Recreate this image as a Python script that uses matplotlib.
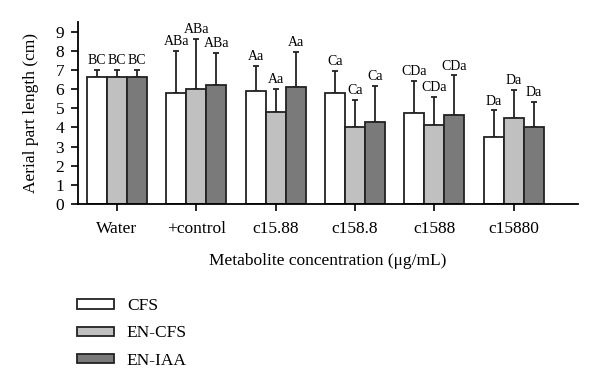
import numpy as np
import matplotlib
matplotlib.use('Agg')
import matplotlib.pyplot as plt

plt.rcParams['font.family'] = ['Liberation Serif', 'DejaVu Serif']

categories = ['Water', '+control', 'c15.88', 'c158.8', 'c1588', 'c15880']
series = ['CFS', 'EN-CFS', 'EN-IAA']

cfs = [6.65, 5.83, 5.89, 5.78, 4.77, 3.52]
en_cfs = [6.65, 5.99, 4.79, 4.02, 4.14, 4.51]
en_iaa = [6.65, 6.20, 6.13, 4.27, 4.63, 4.02]

cfs_err = [0.35, 2.18, 1.32, 1.19, 1.66, 1.38]
en_cfs_err = [0.35, 2.63, 1.23, 1.43, 1.45, 1.46]
en_iaa_err = [0.35, 1.70, 1.83, 1.90, 2.09, 1.31]

cfs_lbl = ['BC', 'ABa', 'Aa', 'Ca', 'CDa', 'Da']
en_cfs_lbl = ['BC', 'ABa', 'Aa', 'Ca', 'CDa', 'Da']
en_iaa_lbl = ['BC', 'ABa', 'Aa', 'Ca', 'CDa', 'Da']

colors = ['#ffffff', '#c0c0c0', '#7a7a7a']

fig = plt.figure(figsize=(6, 3.86), dpi=100)
ax = fig.add_axes([0.13, 0.4715, 0.833, 0.4707])

x = np.arange(len(categories))
w = 0.252
values = [cfs, en_cfs, en_iaa]
errors = [cfs_err, en_cfs_err, en_iaa_err]
labels = [cfs_lbl, en_cfs_lbl, en_iaa_lbl]

for i, (vals, errs, lbls) in enumerate(zip(values, errors, labels)):
    pos = x + (i - 1) * w
    ax.bar(pos, vals, width=w, color=colors[i], edgecolor='#222222',
           linewidth=1.3, label=series[i], zorder=2)
    # only the upper half of each error bar is shown
    ax.errorbar(pos, vals, yerr=[np.zeros(len(vals)), errs], fmt='none',
                ecolor='#222222', elinewidth=1.3, capsize=2, capthick=1.3, zorder=1)
    for p, v, e, t in zip(pos, vals, errs, lbls):
        ax.annotate(t, (p, v + e), xytext=(0, 2), textcoords='offset points',
                    ha='center', va='bottom', fontsize=10)

ax.set_xlim(-0.49, 5.81)
ax.set_ylim(0, 9.5)
ax.set_yticks(range(10))
ax.set_xticks(x)
ax.set_xticklabels(categories)
ax.tick_params(axis='both', direction='out', length=5, width=1.2, labelsize=12.5)
ax.tick_params(axis='x', pad=7)
ax.tick_params(axis='y', pad=5)
for s in ['top', 'right']:
    ax.spines[s].set_visible(False)
for s in ['left', 'bottom']:
    ax.spines[s].set_linewidth(1.3)

ax.set_ylabel('Aerial part length (cm)', fontsize=12.5, labelpad=12)
ax.set_xlabel('Metabolite concentration (μg/mL)', fontsize=12.5, labelpad=12)

fig.legend(loc='upper left', bbox_to_anchor=(0.128, 0.227), frameon=False,
           fontsize=12.5, handlelength=2.13, handleheight=0.46,
           labelspacing=0.64, handletextpad=0.75, borderpad=0, borderaxespad=0)

fig.savefig('out.png', dpi=100)
